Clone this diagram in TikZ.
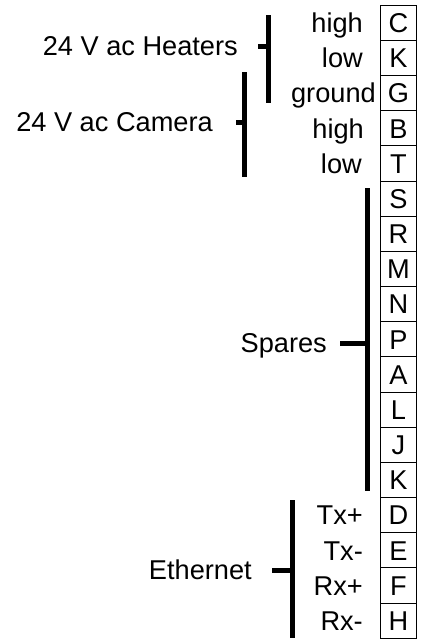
\documentclass[tikz,border=0pt]{standalone}
\usepackage{fontspec}
\setmainfont{Liberation Sans}
\usetikzlibrary{positioning,chains}

\begin{document}
\begin{tikzpicture}[%
    x=1pt, y=-1pt,              % Pixel-like units, measured from the top
    start chain=going below,    % Contacts run top-to-bottom
    node distance=-1pt,         % Contact boxes share their borders
    ]
% -------------------------------------------------
% A few styles
\tikzset{
  txt/.style={font=\fontsize{27.2}{31}\selectfont, inner sep=0pt,
    text height=19.5pt, text depth=0pt},
  contact/.style={txt, draw, line width=1pt, on chain,
    minimum width=36pt, minimum height=35.17pt},
  sig/.style={txt, anchor=east},
  grp/.style={txt},
  % Bracket lines for the signal groups
  grpbar/.style={line width=5pt},
  grptick/.style={line width=5pt},
}
\useasboundingbox (0,0) rectangle (422,640);
% -------------------------------------------------
% The connector contacts, one below the other
\node [contact] (pC) at (398.5,22.8) {C};
\node [contact] (pK) {K};
\node [contact] (pG) {G};
\node [contact] (pB) {B};
\node [contact] (pT) {T};
\node [contact] (pS) {S};
\node [contact] (pR) {R};
\node [contact] (pM) {M};
\node [contact] (pN) {N};
\node [contact] (pP) {P};
\node [contact] (pA) {A};
\node [contact] (pL) {L};
\node [contact] (pJ) {J};
\node [contact] (pKb) {K};
\node [contact] (pD) {D};
\node [contact] (pE) {E};
\node [contact] (pF) {F};
\node [contact] (pH) {H};

% Signal names next to the contacts
\node [sig, left=17pt of pC] (sC) {high};
\node [sig, left=17pt of pK] (sK) {low};
\node [sig, left=4pt of pG] (sG) {ground};
\node [sig, left=16pt of pB] (sB) {high};
\node [sig, left=18pt of pT] (sT) {low};
\node [sig, left=17pt of pD] (sD) {Tx+};
\node [sig, left=17pt of pE] (sE) {Tx-};
\node [sig, left=17pt of pF] (sF) {Rx+};
\node [sig, left=17pt of pH] (sH) {Rx-};

% -------------------------------------------------
% Group brackets
\coordinate (hTop) at (268,15);  \coordinate (hBot) at (268,103);
\coordinate (hMid) at (268,46);
\coordinate (cTop) at (244,72);  \coordinate (cBot) at (244,177);
\coordinate (cMid) at (244,122);
\coordinate (sTop) at (367,188); \coordinate (sBot) at (367,491);
\coordinate (sMid) at (367,343);
\coordinate (eTop) at (292,500); \coordinate (eBot) at (292,638);
\coordinate (eMid) at (292,570);

\node [grp, left=30pt of hMid] (gHeat) {24 V ac Heaters};
\node [grp, left=31pt of cMid] (gCam) {24 V ac Camera};
\node [grp, left=40pt of sMid] (gSpare) {Spares};
\node [grp, left=40pt of eMid] (gEth) {Ethernet};

\draw[grpbar] (hTop) -- (hBot);	% Heaters
\draw[grpbar] (cTop) -- (cBot);	% Camera
\draw[grpbar] (sTop) -- (sBot);	% Spares
\draw[grpbar] (eTop) -- (eBot);	% Ethernet
\draw[grptick] ([xshift=20pt]gHeat.east) -- (hMid);
\draw[grptick] ([xshift=23pt]gCam.east) -- (cMid);
\draw[grptick] ([xshift=13pt]gSpare.east) -- (sMid);
\draw[grptick] ([xshift=20pt]gEth.east) -- (eMid);

% -------------------------------------------------
\end{tikzpicture}
\end{document}
